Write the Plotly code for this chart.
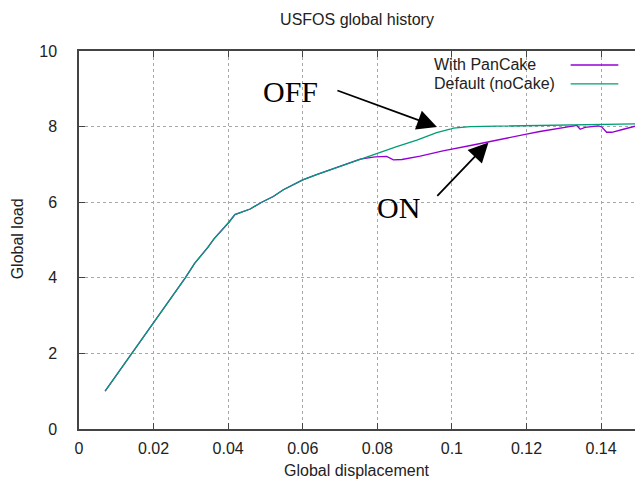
import plotly.graph_objects as go

# ---- data ----
shared_disp = [0.0070, 0.0142, 0.0200, 0.0285, 0.0310, 0.0326, 0.0345, 0.0362, 0.0380,
               0.0402, 0.0418, 0.0440, 0.0459, 0.0490, 0.0521, 0.0548, 0.0600, 0.0637,
               0.0691, 0.0754]
shared_load = [1.00, 2.00, 2.83, 4.00, 4.38, 4.56, 4.80, 5.03, 5.22,
               5.47, 5.67, 5.76, 5.82, 6.00, 6.15, 6.33, 6.59, 6.73,
               6.92, 7.14]

pancake_disp_tail = [0.0794, 0.0825, 0.0843, 0.0866, 0.0915, 0.0976, 0.1050, 0.1098,
                     0.1200, 0.1236, 0.1326, 0.1335, 0.1344, 0.1357, 0.1393, 0.1402,
                     0.1415, 0.1429, 0.1460, 0.1491]
pancake_load_tail = [7.20, 7.21, 7.12, 7.13, 7.22, 7.36, 7.50, 7.59,
                     7.80, 7.87, 8.00, 8.03, 7.93, 7.98, 8.02, 7.99,
                     7.85, 7.85, 7.93, 8.01]

default_disp_tail = [0.0798, 0.0852, 0.0906, 0.0959, 0.0995, 0.1004, 0.1049, 0.1100,
                     0.1200, 0.1300, 0.1397, 0.1491]
default_load_tail = [7.29, 7.47, 7.64, 7.84, 7.93, 7.96, 8.00, 8.01,
                     8.03, 8.04, 8.05, 8.07]

series_names = ["With PanCake", "Default (noCake)"]
series_colors = ["#9400d3", "#009e73"]

x_tickvals = [0, 0.02, 0.04, 0.06, 0.08, 0.1, 0.12, 0.14]
x_ticktext = ["0", "0.02", "0.04", "0.06", "0.08", "0.1", "0.12", "0.14"]
y_tickvals = [0, 2, 4, 6, 8, 10]
y_ticktext = ["0", "2", "4", "6", "8", "10"]

title_text = "USFOS global history"
x_title = "Global displacement"
y_title = "Global load"

# arrow annotations: (label, label_x, label_y, tail_x, tail_y, tip_x, tip_y)
off_label = ("OFF", 0.0566, 8.92, 0.0689, 8.97, 0.0960, 7.99)
on_label = ("ON", 0.0858, 5.86, 0.0957, 6.13, 0.1098, 7.58)

# ---- figure ----
fig = go.Figure()
fig.add_trace(go.Scatter(x=shared_disp + pancake_disp_tail, y=shared_load + pancake_load_tail,
                         mode="lines", name=series_names[0],
                         line=dict(color=series_colors[0], width=1.3)))
fig.add_trace(go.Scatter(x=shared_disp + default_disp_tail, y=shared_load + default_load_tail,
                         mode="lines", name=series_names[1],
                         line=dict(color=series_colors[1], width=1.3)))

FONT = "Liberation Sans, Arial, sans-serif"
SERIF = "Liberation Serif, Times New Roman, serif"
axis_color = "#444444"
grid_color = "#a8a8a8"

W, H = 635, 489
fig.update_layout(
    width=W, height=H,
    margin=dict(l=79, r=0, t=51, b=60),
    paper_bgcolor="white", plot_bgcolor="white",
    showlegend=False,
    font=dict(family=FONT, size=16, color="#222222"),
    title=dict(text=title_text, x=0.5, xref="paper", y=1 - 19 / H, yref="container",
               yanchor="middle", xanchor="center", font=dict(family=FONT, size=16, color="#222222")),
)
fig.update_xaxes(range=[0, 0.1491], tickvals=x_tickvals, ticktext=x_ticktext,
                 showline=True, linecolor=axis_color, linewidth=1.5, mirror="ticks",
                 ticks="inside", ticklen=6, tickcolor=axis_color, tickwidth=1,
                 showgrid=True, gridcolor=grid_color, griddash="dot", gridwidth=1,
                 zeroline=False, ticklabelstandoff=4,
                 tickfont=dict(family=FONT, size=16, color="#222222"))
fig.update_yaxes(range=[0, 10], tickvals=y_tickvals, ticktext=y_ticktext,
                 showline=True, linecolor=axis_color, linewidth=1.5, mirror=False,
                 ticks="inside", ticklen=6, tickcolor=axis_color, tickwidth=1,
                 showgrid=True, gridcolor=grid_color, griddash="dot", gridwidth=1,
                 zeroline=False, ticklabelstandoff=17,
                 tickfont=dict(family=FONT, size=16, color="#222222"))

# axis titles
fig.add_annotation(text=x_title, xref="paper", yref="paper", x=0.5, y=0,
                   yanchor="middle", xanchor="center", yshift=-41, showarrow=False,
                   font=dict(family=FONT, size=16, color="#222222"))
fig.add_annotation(text=y_title, xref="paper", yref="paper", x=0, y=0.503,
                   xanchor="center", yanchor="middle", xshift=-61.5, textangle=-90,
                   showarrow=False, font=dict(family=FONT, size=16, color="#222222"))

# OFF / ON labels and arrows
for lab in (off_label, on_label):
    text, lx, ly, tx, ty, hx, hy = lab
    fig.add_annotation(text=text, x=lx, y=ly, xref="x", yref="y", showarrow=False,
                       font=dict(family=SERIF, size=30, color="black"))
    fig.add_annotation(text="", x=hx, y=hy, ax=tx, ay=ty, xref="x", yref="y",
                       axref="x", ayref="y", showarrow=True, arrowhead=2,
                       arrowsize=2.2, arrowwidth=1.8, arrowcolor="black", standoff=0)

# legend (gnuplot style: text then line sample)
legend_rows_y = [0.963, 0.913]
for name, color, ly in zip(series_names, series_colors, legend_rows_y):
    fig.add_annotation(text=name, xref="paper", yref="paper", x=0.635, y=ly,
                       xanchor="left", yanchor="middle", showarrow=False,
                       font=dict(family=FONT, size=16, color="#222222"))
    fig.add_shape(type="line", xref="paper", yref="paper", x0=0.8843, x1=0.970,
                  y0=ly, y1=ly, line=dict(color=color, width=1.3))

fig.write_html("out.html", config={"displayModeBar": False},
               post_script="document.body.style.margin='0';document.body.style.overflow='hidden';")
